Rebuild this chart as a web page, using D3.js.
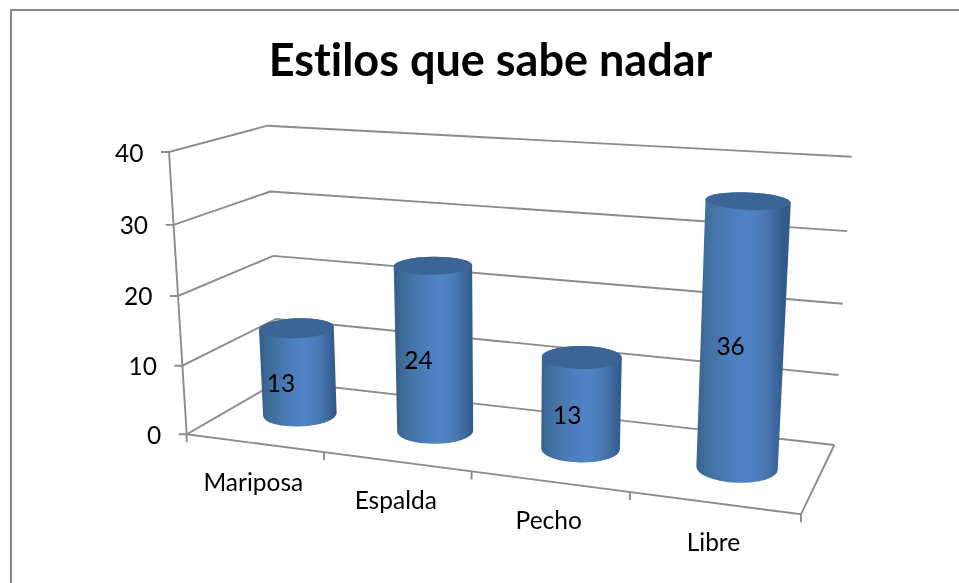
<!DOCTYPE html>
<html>
<head>
<meta charset="utf-8">
<script src="https://cdn.jsdelivr.net/npm/d3@7/dist/d3.min.js"></script>
<style>
html,body{margin:0;padding:0;background:#fff;overflow:hidden}
text{font-family:Lato,"Open Sans",sans-serif;fill:#000;font-variant-ligatures:none}
</style>
</head>
<body>
<script>
// ---- data ----
const titleText = "Estilos que sabe nadar";
const categories = ["Mariposa", "Espalda", "Pecho", "Libre"];
const values = [13, 24, 13, 36];
const tickValues = [0, 10, 20, 30, 40];

// ---- 3D box layout (corner of the plot box at value 0 and at value 40) ----
const W = 959, H = 583;
const box = {
  frontLeft:  {base: [186.7, 434.3], top: [169, 152]},
  frontRight: {base: [801, 514.3],   top: [817, 196]},
  backLeft:   {base: [279, 381],     top: [267.3, 125.7]},
  backRight:  {base: [834.3, 445],   top: [851.7, 156.7]}
};
// perspective foreshortening of the two visible axes
const valueT = d3.scaleLinear().domain(tickValues).range([0, 0.243, 0.49, 0.742, 1]);
const catU = d3.scaleLinear().domain([0, 1, 2, 3, 4]).range([0, 0.2234, 0.4637, 0.7215, 1]);
const halfU = d3.scaleLinear().domain([0, 1]).range([0.062, 0.071]);
const depthMid = 0.52, halfDepth = 0.215;

function corner(c, t) {
  return [c.base[0] + t * (c.top[0] - c.base[0]), c.base[1] + t * (c.top[1] - c.base[1])];
}
function project(u, w, v) {
  const t = valueT(v);
  const fl = corner(box.frontLeft, t), fr = corner(box.frontRight, t);
  const bl = corner(box.backLeft, t), br = corner(box.backRight, t);
  return [0, 1].map(i => {
    const front = fl[i] + u * (fr[i] - fl[i]);
    const back = bl[i] + u * (br[i] - bl[i]);
    return front + w * (back - front);
  });
}

const svg = d3.select("body").append("svg").attr("width", W).attr("height", H)
  .style("display", "block");
const defs = svg.append("defs");
defs.append("filter").attr("id", "soft").attr("x", "-5%").attr("y", "-5%")
  .attr("width", "110%").attr("height", "110%")
  .append("feGaussianBlur").attr("stdDeviation", 0.45);

// chart frame, cut off by the picture at right and bottom
svg.append("path")
  .attr("d", d3.line()([[11, H], [11, 10], [W, 10]]))
  .attr("fill", "none").attr("stroke", "#868686").attr("stroke-width", 2);

const art = svg.append("g").attr("filter", "url(#soft)");
const line = d3.line();
const axisColor = "#8c8c8c";
function stroke(points) {
  art.append("path").attr("d", line(points)).attr("fill", "none")
    .attr("stroke", axisColor).attr("stroke-width", 1.9);
}

// walls: gridlines for every tick value
tickValues.forEach(v => {
  const fl = project(0, 0, v), bl = project(0, 1, v), br = project(1, 1, v);
  stroke([[fl[0] - 8, fl[1]], fl, bl, br]);
});
// vertical value axis and floor
stroke([project(0, 0, 40), project(0, 0, 0), [project(0, 0, 0)[0], project(0, 0, 0)[1] + 8]]);
stroke([project(0, 0, 0), project(1, 0, 0), project(1, 1, 0)]);
// category tick marks
catU.domain().slice(1).forEach(i => {
  const p = project(catU(i), 0, 0);
  stroke([p, [p[0], p[1] + 8]]);
});

// cylinders
const bars = categories.map((c, i) => {
  const u = catU(i + 0.5);
  const b = project(u, depthMid, 0), t = project(u, depthMid, values[i]);
  const du = halfU(u);
  const radii = v => {
    const l = project(u - du, depthMid, v), r = project(u + du, depthMid, v);
    const f = project(u, depthMid - halfDepth, v), k = project(u, depthMid + halfDepth, v);
    return {rx: (r[0] - l[0]) / 2, ry: (f[1] - k[1]) / 2};
  };
  return {c, i, u, b, t, rb: radii(0), rt: radii(values[i]),
          angle: Math.atan2(t[0] - b[0], b[1] - t[1])};
});

bars.forEach(d => {
  const ca = Math.cos(d.angle), sa = Math.sin(d.angle), deg = d.angle * 180 / Math.PI;
  const end = (ctr, r, s) => [ctr[0] + s * r.rx * ca, ctr[1] + s * r.rx * sa];
  const tl = end(d.t, d.rt, -1), tr = end(d.t, d.rt, 1);
  const bl = end(d.b, d.rb, -1), br = end(d.b, d.rb, 1);
  const id = "body" + d.i;
  const grad = defs.append("linearGradient").attr("id", id)
    .attr("gradientUnits", "userSpaceOnUse")
    .attr("x1", bl[0] - 1).attr("y1", 0).attr("x2", br[0] + (tr[0] - br[0]) * 0.5).attr("y2", 0);
  [[0, "#37608f"], [0.14, "#41709f"], [0.42, "#4d7fbf"], [0.6, "#5184c6"],
   [0.78, "#4a78b4"], [0.93, "#3a6498"], [1, "#315a8b"]].forEach(s =>
    grad.append("stop").attr("offset", s[0]).attr("stop-color", s[1]));
  const body = `M${tl}L${bl}A${d.rb.rx},${d.rb.ry},${deg},0,0,${br}L${tr}A${d.rt.rx},${d.rt.ry},${deg},0,0,${tl}Z`;
  art.append("path").attr("d", body).attr("fill", `url(#${id})`);
  art.append("ellipse").attr("rx", d.rt.rx).attr("ry", d.rt.ry)
    .attr("transform", `translate(${d.t}) rotate(${deg})`)
    .attr("fill", "#3a6596");
});

// value-axis labels
const axisFont = 24.5;
art.selectAll("text.tick").data(tickValues).join("text").attr("class", "tick")
  .attr("x", v => project(0, 0, v)[0] - 25.5)
  .attr("y", v => project(0, 0, v)[1] + 9.5)
  .attr("text-anchor", "end").attr("font-size", axisFont)
  .text(v => v);

// category labels
art.selectAll("text.cat").data(bars).join("text").attr("class", "cat")
  .attr("x", d => project(d.u, 0, 0)[0] - 2)
  .attr("y", d => project(d.u, 0, 0)[1] + 47.5)
  .attr("text-anchor", "middle").attr("font-size", axisFont)
  .text(d => d.c);

// data labels
const labelDx = d3.scaleLinear().domain([0, 1]).range([-18, -11]);
art.selectAll("text.val").data(bars).join("text").attr("class", "val")
  .attr("x", d => (d.b[0] + d.t[0]) / 2 + labelDx(d.u))
  .attr("y", d => (d.b[1] + d.t[1]) / 2 + 20.5)
  .attr("text-anchor", "middle").attr("font-size", axisFont)
  .text((d, i) => values[i]);

// title
art.append("text").attr("x", 490.5).attr("y", 75.5)
  .attr("text-anchor", "middle").attr("font-size", 45).attr("font-weight", 700)
  .text(titleText);
</script>
</body>
</html>
